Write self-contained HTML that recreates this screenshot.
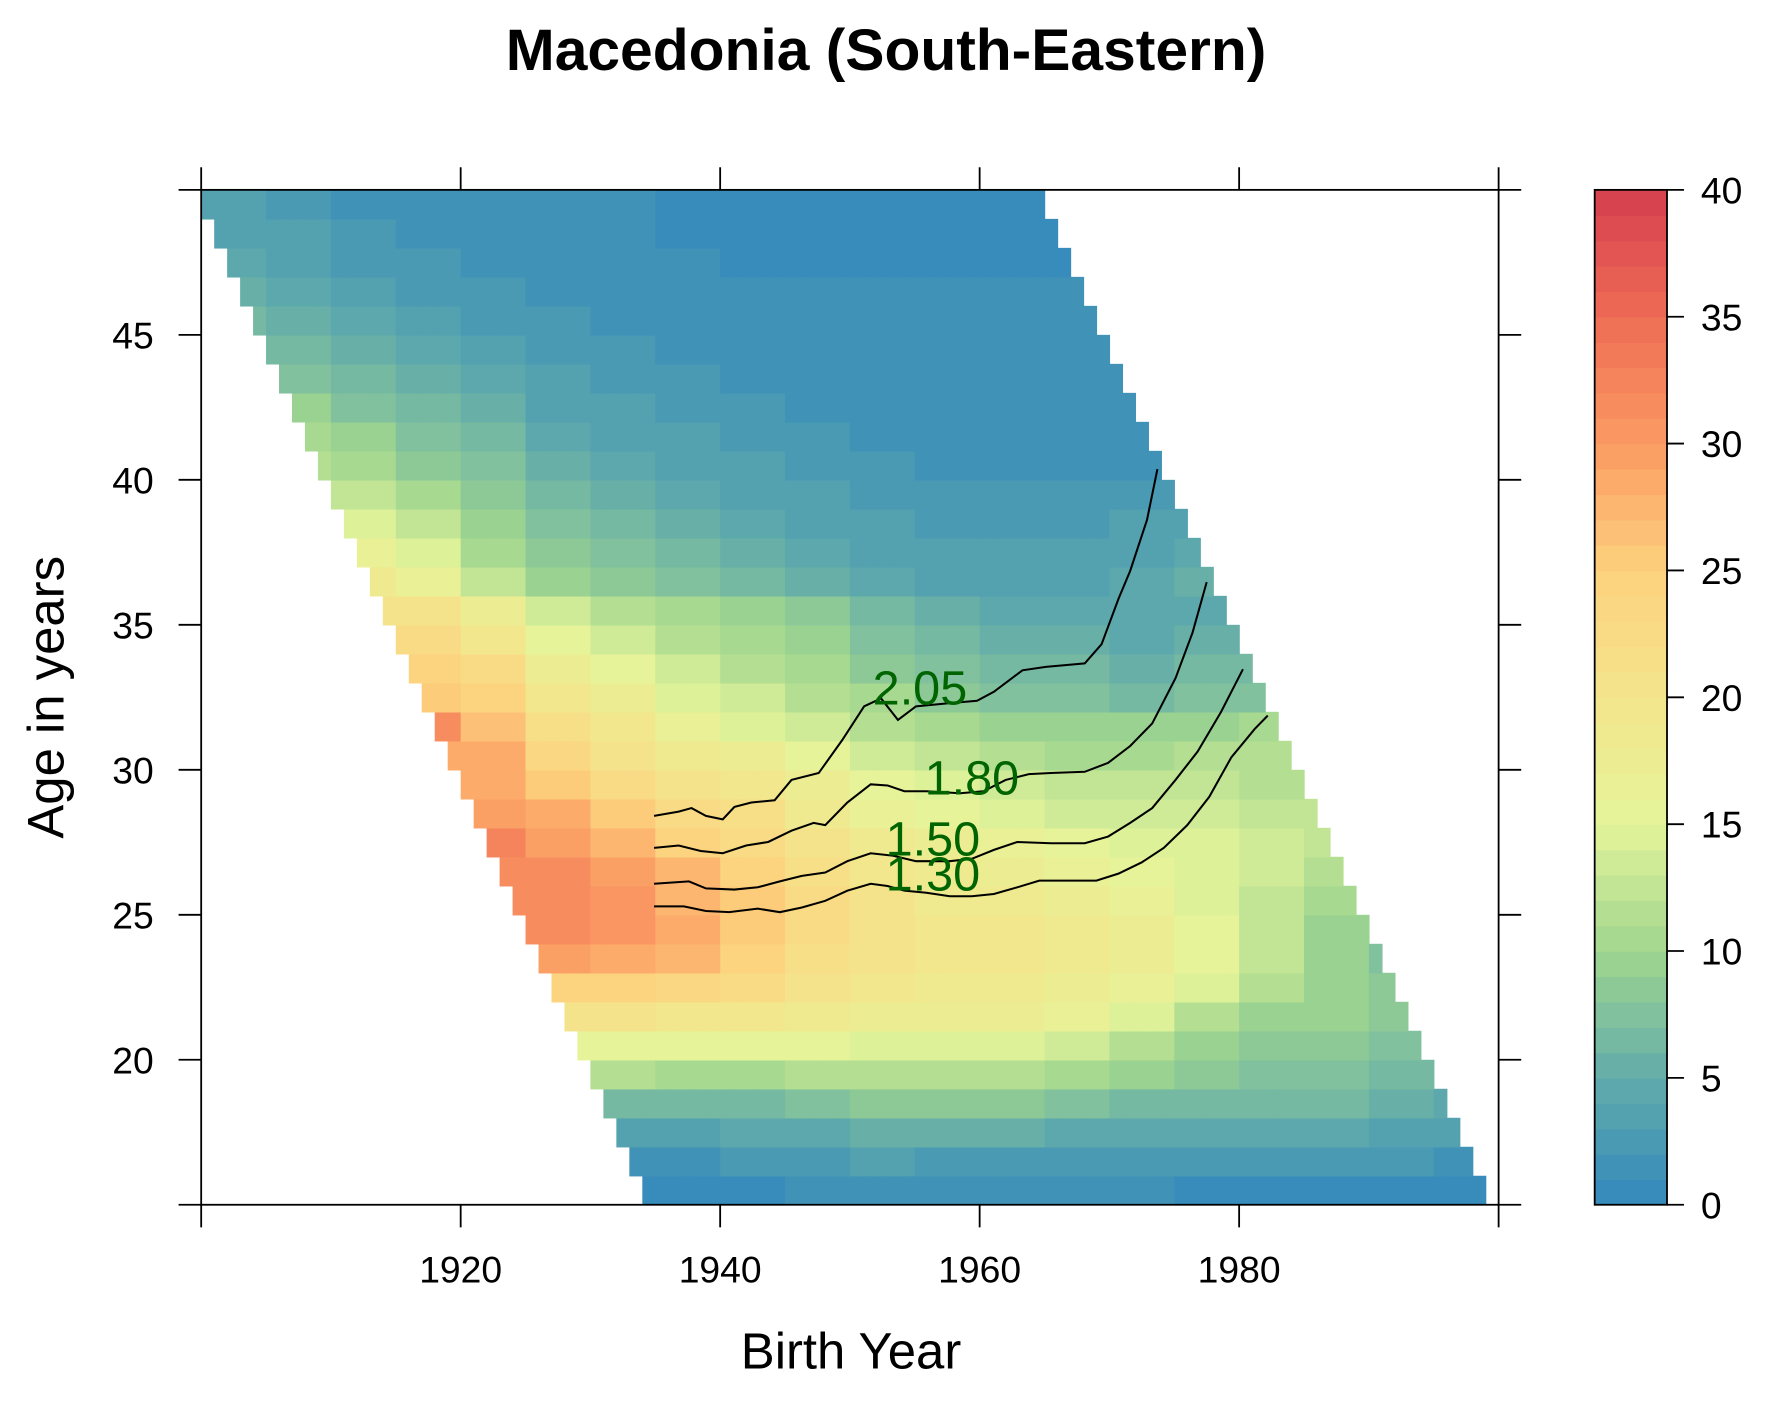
<!DOCTYPE html>
<html><head><meta charset="utf-8"><style>
html,body{margin:0;padding:0;background:#fff;}
svg{display:block;font-family:"Liberation Sans",Arial,sans-serif;}
</style></head><body>
<svg id="chart" width="1771" height="1417" viewBox="0 0 1567 1253.8" xmlns="http://www.w3.org/2000/svg">
<g id="cells"></g>
<g id="contours"></g>
<g id="axes"></g>
<g id="cbar"></g>
<text x="784" y="62" text-anchor="middle" font-size="52" font-weight="bold">Macedonia (South-Eastern)</text>
<text x="753" y="1211" text-anchor="middle" font-size="45">Birth Year</text>
<text transform="translate(56,617) rotate(-90)" text-anchor="middle" font-size="45">Age in years</text>
</svg>
<script>
// ---- data ----
const cohortBins = [1900,1905,1910,1915,1920,1925,1930,1935,1940,1945,1950,1955,1960,1965,1970,1975,1980,1985,1990,1995];
const ages = [15,16,17,18,19,20,21,22,23,24,25,26,27,28,29,30,31,32,33,34,35,36,37,38,39,40,41,42,43,44,45,46,47,48,49];
const rates = [
/*15*/[0.5,0.5,0.5,0.5,0.5,0.5,0.5,0.5,0.5,1,1,1,1,1,1,0.5,0.5,0.5,0.5,0.5],
/*16*/[1.5,1.5,1.5,1.5,1.5,1.5,1.5,1.5,2.5,2,3,2.5,2.5,2.5,2.5,2,2,2.5,2,1.5],
/*17*/[3,3,3,3,3,3,3,3.5,4,4.5,5,5,5,4.5,4.5,4,4,4,3.5,3],
/*18*/[6,6,6,6,6,6,6,6,6.5,7.5,8,8,8,7,6.5,6,6,6,5,4],
/*19*/[11,11,11,11,11,11,11,10,10,11,11,11,11,10,9,8,7,7,6,5],
/*20*/[15,15,15,15,15,15,15,15,15,15,14,14,14,13,11,9,8,8,7,6],
/*21*/[20,20,20,20,20,20,20,19,19,18,17,17,17,16,14,11,9,9,8,7],
/*22*/[24,24,24,24,24,24,24,23,22,20,19,18,18,17,16,14,11,9,8,8],
/*23*/[29,29,29,29,29,29,28,27,24,21,20,19,19,18,17,15,12,9,7,7],
/*24*/[31,31,31,31,31,31,30,28,25,22,20,19,19,18,17,15,12,9,7,7],
/*25*/[31,31,31,31,31,31,30,27,25,22,20,18,18,17,16,14,12,10,8,8],
/*26*/[31,31,31,31,31,31,29,27,24,21,19,18,17,16,15,14,13,11,9,9],
/*27*/[32,32,32,32,32,29,27,24,22,20,18,17,16,15,14,14,13,12,10,10],
/*28*/[29,29,29,29,29,28,25,22,21,18,16,15,14,13,13,13,12,12,11,11],
/*29*/[28,28,28,28,28,25,22,20,19,17,15,14,13,12,12,12,11,11,11,11],
/*30*/[28,28,28,28,28,23,20,18,17,15,13,12,11,10,10,11,11,11,11,11],
/*31*/[31,31,31,31,26,21,19,16,14,13,11,10,9,9,9,9,10,10,10,10],
/*32*/[25,25,25,25,24,19,17,14,13,11,10,8.5,7.5,7,6.5,7,7,8,8,8],
/*33*/[24,24,24,24,22,17,15,13,11,10,8.5,7.5,6.5,6,5.5,6,6,7,7.5,7.5],
/*34*/[22,22,22,22,19,15,13,11,10,9,7.5,6.5,5.5,5,4.5,5,5,6,6,6],
/*35*/[20,20,20,20,17,13,11,10,9,8,6.5,5.5,4.5,4,4,4,4.5,5.5,5.5,5.5],
/*36*/[15,15,18,16,12,9,8,7,6,5,4,3.5,3.5,3.5,4,5,5,5,5,5],
/*37*/[14,14,16,14,10,8,7,6,5,4,3.5,3,3,3,3.5,4,4,4,4,4],
/*38*/[13,13,14,12,9,7,6,5,4,3.5,3,2.5,2.5,2.5,3,3,3,3,3,3],
/*39*/[12,12,12,10,8,6,5,4,3.5,3,2.5,2,2,2,2,2.5,2.5,2.5,2.5,2.5],
/*40*/[11,11,10,8,7,5.5,4,3.5,3,2.5,2,1.5,1.5,1.5,1.5,2,2,2,2,2],
/*41*/[10,10,9,7,6,4.5,3.5,3,2.5,2,1.5,1.2,1,1,1.5,1.5,1.5,1.5,1.5,1.5],
/*42*/[9,9,7,6,5,3.5,3,2.5,2,1.5,1.2,1,1,1,1,1,1,1,1,1],
/*43*/[8,7,6,5,4,3,2.5,2,1.5,1.2,1,1,1,1,1,1,1,1,1,1],
/*44*/[7,6,5,4,3,2.5,2,1.5,1.2,1,1,1,1,1,1,1,1,1,1,1],
/*45*/[6,5,4,3,2.5,2,1.5,1,1,1,1,1,1,1,1,1,1,1,1,1],
/*46*/[5,4,3,2.5,2,1.5,1,1,1,1,1,1,1,1,1,1,1,1,1,1],
/*47*/[4,3.5,2.5,2,1.5,1,1,1,0.8,0.8,0.8,0.8,0.8,0.8,1,1,1,1,1,1],
/*48*/[3.5,3,2,1.5,1,1,1,0.8,0.6,0.6,0.6,0.6,0.6,0.6,1,1,1,1,1,1],
/*49*/[3,2.5,1.5,1,1,1,1,0.5,0.5,0.5,0.5,0.5,0.5,0.5,1,1,1,1,1,1]
];
const periodMin = 1949, periodMax = 2013;
const contourLevels = ["2.05","1.80","1.50","1.30"];
const c205x = [1934.9,1936.8,1937.8,1938.9,1940.2,1941.1,1942.4,1944.2,1945.5,1947.6,1949.4,1951.1,1952.4,1953.7,1955.1,1957.7,1959.8,1961.1,1963.3,1965.1,1968.1,1969.4,1970.7,1971.6,1972.9,1973.7];
const c205y = [28.41,28.56,28.68,28.41,28.29,28.72,28.87,28.95,29.65,29.89,31.02,32.19,32.46,31.72,32.19,32.30,32.38,32.69,33.43,33.55,33.67,34.33,35.89,36.86,38.62,40.37];
const c180x = [1934.9,1936.8,1938.5,1940.2,1942.0,1943.7,1945.5,1947.2,1948.1,1949.8,1951.6,1952.9,1954.2,1955.9,1958.5,1960.3,1962.0,1963.8,1965.5,1968.1,1969.9,1971.6,1973.3,1975.1,1976.4,1977.5];
const c180y = [27.31,27.39,27.20,27.12,27.39,27.51,27.90,28.17,28.09,28.87,29.50,29.46,29.26,29.26,29.19,29.26,29.65,29.85,29.89,29.93,30.24,30.82,31.60,33.16,34.72,36.47];
const c150x = [1934.9,1937.6,1938.9,1941.1,1942.9,1944.6,1946.3,1948.1,1949.8,1951.6,1953.3,1955.1,1957.7,1959.4,1961.1,1962.9,1965.5,1968.1,1969.9,1971.6,1973.3,1975.1,1976.8,1978.6,1980.3];
const c150y = [26.07,26.15,25.91,25.87,25.95,26.15,26.34,26.46,26.85,27.12,27.04,26.85,26.85,26.93,27.24,27.51,27.47,27.47,27.70,28.17,28.68,29.65,30.63,31.99,33.47];
const c130x = [1934.9,1937.2,1938.9,1940.7,1942.9,1944.6,1946.3,1948.1,1949.8,1951.6,1952.9,1954.2,1955.9,1957.7,1959.4,1961.1,1962.9,1964.6,1967.2,1969.0,1970.7,1972.5,1974.2,1976.0,1977.7,1979.4,1981.2,1982.2];
const c130y = [25.29,25.29,25.13,25.09,25.21,25.09,25.25,25.48,25.83,26.07,25.99,25.83,25.76,25.64,25.64,25.72,25.95,26.18,26.18,26.18,26.42,26.81,27.31,28.09,29.07,30.43,31.41,31.87];
const labelX = [1955.4,1959.4,1956.4,1956.4];
const labelY = [32.4,29.3,27.2,26.0];
const xTicks = [1900,1920,1940,1960,1980,2000];
const xTickLabels = ["","1920","1940","1960","1980",""];
const yTicks = [15,20,25,30,35,40,45,50];
const yTickLabels = ["","20","25","30","35","40","45",""];
const cbTicks = [0,5,10,15,20,25,30,35,40];

// ---- scales ----
const L=178,R=1326,T=168,B=1066;
const xs = v => L + (v-1900)/(2000-1900)*(R-L);
const ys = v => B - (v-15)/(50-15)*(B-T);
const CBL=1411,CBR=1475;
const cs = v => B - v/40*(B-T);
const NS="http://www.w3.org/2000/svg";
function mk(tag, attrs, parent){const e=document.createElementNS(NS,tag);for(const k in attrs)e.setAttribute(k,attrs[k]);parent.appendChild(e);return e;}
const stops=[[0,[50,136,189]],[5,[98,172,170]],[10,[160,214,143]],[15,[228,244,154]],[20,[244,229,140]],[25,[253,209,126]],[30,[251,155,98]],[35,[238,108,85]],[40,[213,62,79]]];
function color(v){
  v=Math.max(0,Math.min(39.99,v)); v=Math.floor(v)+0.5;
  for(let i=0;i<stops.length-1;i++){const a=stops[i],b=stops[i+1];if(v>=a[0]&&v<=b[0]){const t=(v-a[0])/(b[0]-a[0]);const c=a[1].map((x,j)=>Math.round(x+(b[1][j]-x)*t));return `rgb(${c[0]},${c[1]},${c[2]})`;}}
  return "rgb(213,62,79)";
}

// ---- heatmap ----
const gc=document.getElementById('cells');
ages.forEach((a,ai)=>{
  for(let c=1900;c<2000;c++){
    const p=a+c; if(p<periodMin||p>periodMax) continue;
    const bi=Math.min(cohortBins.length-1,Math.floor((c-1900)/5));
    const v=rates[ai][bi];
    const r=mk('rect',{x:xs(c),y:ys(a+1),width:xs(c+1)-xs(c)+0.6,height:ys(a)-ys(a+1)+0.6,fill:color(v)},gc);
    
    
  }
});

// ---- contours ----
const gl=document.getElementById('contours');
[[c205x,c205y],[c180x,c180y],[c150x,c150y],[c130x,c130y]].forEach((s,i)=>{
  const d=s[0].map((x,j)=>(j?'L':'M')+xs(x).toFixed(1)+','+ys(s[1][j]).toFixed(1)).join('');
  const p=mk('path',{d:d,fill:'none',stroke:'#000','stroke-width':1.8},gl);
  
  
});
contourLevels.forEach((lv,i)=>{
  const t=mk('text',{x:xs(labelX[i]),y:ys(labelY[i])+4,'text-anchor':'middle','font-size':43,fill:'#006400'},gl);
  t.textContent=lv;
  
  
});

// ---- axes ----
const ga=document.getElementById('axes');
const box=mk('rect',{x:L,y:T,width:R-L,height:B-T,fill:'none',stroke:'#000','stroke-width':1.6},ga);


xTicks.forEach((v,i)=>{
  const x=xs(v);
  const t1=mk('line',{x1:x,x2:x,y1:B,y2:B+20,stroke:'#000','stroke-width':1.6},ga);
  
  
  const t2=mk('line',{x1:x,x2:x,y1:T,y2:T-20,stroke:'#000','stroke-width':1.6},ga);
  
  
  if(xTickLabels[i]){const t=mk('text',{x:x,y:B+69,'text-anchor':'middle','font-size':33},ga);t.textContent=xTickLabels[i];
    
    }
});
yTicks.forEach((v,i)=>{
  const y=ys(v);
  const t1=mk('line',{x1:L-20,x2:L,y1:y,y2:y,stroke:'#000','stroke-width':1.6},ga);
  
  
  const t2=mk('line',{x1:R,x2:R+20,y1:y,y2:y,stroke:'#000','stroke-width':1.6},ga);
  
  
  if(yTickLabels[i]){const t=mk('text',{x:L-42,y:y+12,'text-anchor':'end','font-size':33},ga);t.textContent=yTickLabels[i];
    
    }
});

// ---- colorbar ----
const gb=document.getElementById('cbar');
for(let k=0;k<40;k++){
  const r=mk('rect',{x:CBL,y:cs(k+1),width:CBR-CBL,height:cs(k)-cs(k+1)+0.6,fill:color(k+0.5)},gb);
  
  
}
const cf=mk('rect',{x:CBL,y:T,width:CBR-CBL,height:B-T,fill:'none',stroke:'#000','stroke-width':1.6},gb);


cbTicks.forEach(v=>{
  const y=cs(v);
  const l=mk('line',{x1:CBR,x2:CBR+15,y1:y,y2:y,stroke:'#000','stroke-width':1.6},gb);
  
  
  const t=mk('text',{x:CBR+30,y:y+12,'font-size':33},gb);t.textContent=v;
  
  
});
</script>
</body></html>
